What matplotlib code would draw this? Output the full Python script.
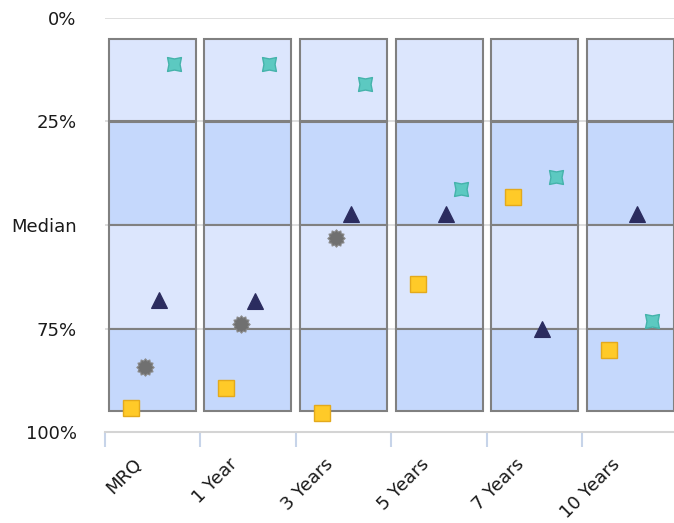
import numpy as np
import matplotlib

matplotlib.use("Agg")
import matplotlib.pyplot as plt
import matplotlib.transforms as mtransforms
from matplotlib.path import Path

# percentile ranks (0 = best, top of chart)
categories = ["MRQ", "1 Year", "3 Years", "5 Years", "7 Years", "10 Years"]
square_rank = [94.2, 89.3, 95.4, 64.3, 43.2, 80.3]
gear_rank = [84.2, 74.0, 53.2, np.nan, np.nan, np.nan]
triangle_rank = [68.2, 68.4, 47.3, 47.3, 75.2, 47.3]
star_rank = [11.2, 11.2, 16.0, 41.3, 38.3, 73.1]

band_edges = [5, 25, 50, 75, 95]
band_colors = ["#dce6fd", "#c5d8fc", "#dce6fd", "#c5d8fc"]
ytick_vals = [0, 25, 50, 75, 100]
ytick_labels = ["0%", "25%", "Median", "75%", "100%"]


def gear_marker(teeth: int = 12, inner: float = 0.78) -> Path:
    ang = np.linspace(0, 2 * np.pi, teeth * 2, endpoint=False)
    r = np.where(np.arange(teeth * 2) % 2 == 0, 1.0, inner)
    verts = np.column_stack([r * np.cos(ang), r * np.sin(ang)])
    verts = np.vstack([verts, verts[:1]])
    codes = [Path.MOVETO] + [Path.LINETO] * (len(verts) - 2) + [Path.CLOSEPOLY]
    return Path(verts, codes)


def star4_marker(inner: float = 0.8) -> Path:
    verts = [(-1, -1), (0, -inner), (1, -1), (inner, 0), (1, 1), (0, inner), (-1, 1), (-inner, 0), (-1, -1)]
    codes = [Path.MOVETO] + [Path.LINETO] * 7 + [Path.CLOSEPOLY]
    return Path(verts, codes)


plt.rcParams["font.family"] = ["DejaVu Sans"]

fig = plt.figure(figsize=(6.74, 5.23), dpi=100)
ax = fig.add_axes([104.5 / 674, 1 - 432 / 523, 573.5 / 674, 414 / 523])

x = np.arange(len(categories))

for y in ytick_vals[:-1]:
    ax.axhline(y, color="#d9d9d9", lw=1.2, zorder=0)

for i in range(len(band_colors)):
    lo, hi = band_edges[i], band_edges[i + 1]
    ax.bar(x, hi - lo, bottom=lo, width=0.91, color=band_colors[i],
           edgecolor="#808080", linewidth=1.5, zorder=1)

offs = [-0.225, -0.075, 0.075, 0.225]
ax.plot(x + offs[0], square_rank, ls="none", marker="s", ms=11.5,
        mfc="#ffca28", mec="#e3a91c", mew=1.0, zorder=3, clip_on=False)
ax.plot(x + offs[1], gear_rank, ls="none", marker=gear_marker(), ms=12.5,
        mfc="#707070", mec="#8a8a8a", mew=0.8, zorder=3)
ax.plot(x + offs[2], triangle_rank, ls="none", marker="^", ms=11.5,
        mfc="#2b2c5f", mec="#2b2c5f", mew=0.8, zorder=3)
ax.plot(x + offs[3], star_rank, ls="none", marker=star4_marker(), ms=10,
        mfc="#5cc9c1", mec="#45b3ab", mew=1.0, zorder=3)

ax.set_xlim(-0.5, len(categories) - 0.5)
ax.set_ylim(100, 0)

ax.set_yticks(ytick_vals, ytick_labels, fontsize=13, color="#1a1a1a")
ax.tick_params(axis="y", length=0, pad=20)

ax.set_xticks(x, categories, rotation=45, ha="right", va="center",
              rotation_mode="anchor", fontsize=13, color="#1a1a1a")
ax.tick_params(axis="x", which="major", length=0, pad=22)
shift = mtransforms.ScaledTranslation(-13 / 100, 1 / 100, fig.dpi_scale_trans)
for lbl in ax.get_xticklabels():
    lbl.set_transform(lbl.get_transform() + shift)
ax.set_xticks(np.arange(len(categories) + 1) - 0.5, minor=True)
ax.tick_params(axis="x", which="minor", length=11, width=1.5, color="#c7d4e9")

for side in ("top", "right", "left"):
    ax.spines[side].set_visible(False)
ax.spines["bottom"].set_color("#d4d4d4")
ax.spines["bottom"].set_linewidth(1.5)

fig.savefig("out.png", dpi=100)
